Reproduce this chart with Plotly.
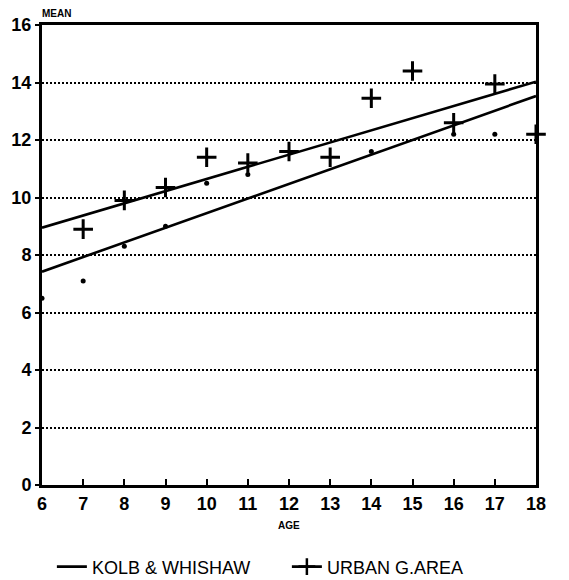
import plotly.graph_objects as go

ages = [6, 7, 8, 9, 10, 11, 12, 13, 14, 15, 16, 17, 18]

# Urban G.Area means (+ markers)
urban_x = [7, 8, 9, 10, 11, 12, 13, 14, 15, 16, 17, 18]
urban_y = [8.9, 9.9, 10.35, 11.4, 11.2, 11.6, 11.4, 13.45, 14.4, 12.6, 13.95, 12.2]

# Kolb & Whishaw means (dots)
kolb_x = [6, 7, 8, 9, 10, 11, 14, 16, 17]
kolb_y = [6.5, 7.1, 8.3, 9.0, 10.5, 10.8, 11.6, 12.2, 12.2]

# Fitted regression lines (end points)
fit_x = [6, 18]
kolb_fit = [7.42, 13.53]
urban_fit = [8.95, 14.03]

y_ticks = [0, 2, 4, 6, 8, 10, 12, 14, 16]

FONT = "Liberation Sans"

fig = go.Figure()

fig.add_trace(go.Scatter(x=fit_x, y=kolb_fit, mode="lines",
                         line=dict(color="black", width=2.6),
                         name="KOLB & WHISHAW", showlegend=True))
fig.add_trace(go.Scatter(x=fit_x, y=urban_fit, mode="lines",
                         line=dict(color="black", width=2.6),
                         showlegend=False))
fig.add_trace(go.Scatter(x=kolb_x, y=kolb_y, mode="markers",
                         marker=dict(symbol="circle", size=5, color="black"),
                         cliponaxis=False, showlegend=False))
fig.add_trace(go.Scatter(x=urban_x, y=urban_y, mode="markers",
                         marker=dict(symbol="cross-thin", size=14,
                                     line=dict(color="black", width=3)),
                         cliponaxis=False, showlegend=False))
# legend entry for urban: line + cross
fig.add_trace(go.Scatter(x=[None], y=[None], mode="lines+markers",
                         line=dict(color="black", width=2.6),
                         marker=dict(symbol="cross-thin", size=12,
                                     line=dict(color="black", width=2.5)),
                         name="URBAN G.AREA", showlegend=True))

fig.update_layout(
    width=569, height=580,
    margin=dict(l=42, r=33, t=25, b=95, autoexpand=False),
    paper_bgcolor="white", plot_bgcolor="white",
    font=dict(family=FONT, color="black"),
    legend=dict(orientation="h", x=0.02, xanchor="left",
                y=-0.178, yanchor="middle",
                font=dict(family=FONT, size=18, color="black"),
                itemwidth=30, entrywidth=190, entrywidthmode="pixels",
                tracegroupgap=0, bgcolor="rgba(0,0,0,0)"),
    xaxis=dict(range=[6, 18], tickmode="array", tickvals=ages,
               ticktext=[str(a) for a in ages],
               ticks="inside", ticklen=6, tickwidth=2, tickcolor="black",
               showline=True, linecolor="black", linewidth=3, mirror=True,
               showgrid=False, zeroline=False,
               tickfont=dict(family=FONT, size=18, weight="bold"),
               ticklabelstandoff=0),
    yaxis=dict(range=[0, 16], tickmode="array", tickvals=y_ticks,
               ticks="outside", ticklen=4, tickwidth=2, tickcolor="black",
               showline=True, linecolor="black", linewidth=3, mirror=True,
               showgrid=True, gridcolor="black", gridwidth=1.6,
               griddash="2px,2px", zeroline=False,
               tickfont=dict(family=FONT, size=18, weight="bold")),
    annotations=[
        dict(text="MEAN", xref="paper", yref="paper", x=-0.004, y=1.026,
             xanchor="left", yanchor="middle", showarrow=False,
             font=dict(family=FONT, size=10, weight="bold")),
        dict(text="AGE", xref="paper", yref="paper", x=0.5, y=-0.089,
             xanchor="center", yanchor="middle", showarrow=False,
             font=dict(family=FONT, size=10, weight="bold")),
    ],
)

fig.write_html("out.html")
